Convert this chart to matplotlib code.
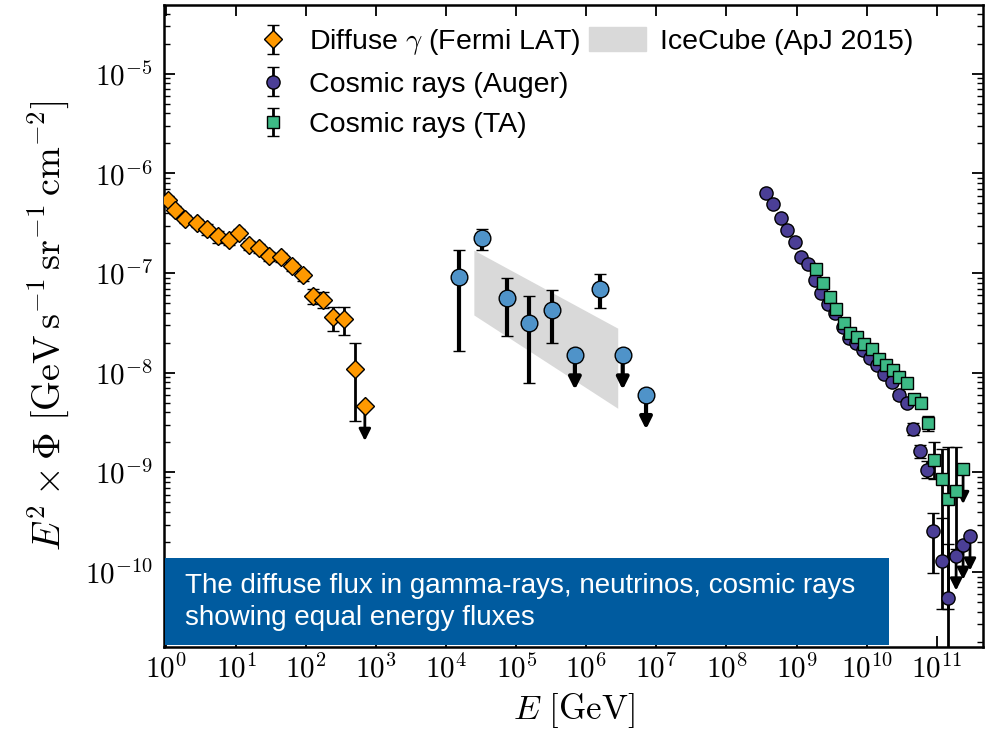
import numpy as np
import matplotlib
matplotlib.use('Agg')
from matplotlib import pyplot as plt
from matplotlib import ticker
from matplotlib.patches import Rectangle, Patch

# Fermi LAT diffuse gamma (E in GeV, E^2 Phi), last one is an upper limit
fermi_E = [1.05, 1.32, 1.84, 2.73, 3.79, 5.44, 7.8, 10.9, 15.1, 21, 29, 43, 62, 89, 124, 172, 239, 343, 493, 686]
fermi_F = [5.4e-7, 4.3e-7, 3.5e-7, 3.2e-7, 2.75e-7, 2.35e-7, 2.14e-7, 2.5e-7, 1.9e-7, 1.78e-7, 1.48e-7, 1.45e-7,
           1.17e-7, 9.5e-8, 5.9e-8, 5.4e-8, 3.6e-8, 3.5e-8, 1.1e-8, 4.6e-9]
fermi_lo = [4.9e-7, 3.9e-7, 3.2e-7, 2.9e-7, 2.4e-7, 2.0e-7, 1.9e-7, 2.25e-7, 1.7e-7, 1.6e-7, 1.33e-7, 1.3e-7,
            1.04e-7, 8.4e-8, 4.9e-8, 4.5e-8, 2.6e-8, 2.4e-8, 3.3e-9, 4.6e-9]
fermi_hi = [5.9e-7, 4.7e-7, 3.8e-7, 3.5e-7, 3.1e-7, 2.65e-7, 2.4e-7, 2.75e-7, 2.1e-7, 1.96e-7, 1.63e-7, 1.6e-7,
            1.3e-7, 1.06e-7, 6.9e-8, 6.4e-8, 4.6e-8, 4.6e-8, 2.0e-8, 4.6e-9]
fermi_ul = [0] * 19 + [1]

# IceCube neutrinos
nu_E = [1.51e4, 3.2e4, 7.3e4, 1.51e5, 3.2e5, 6.85e5, 1.56e6, 3.3e6, 7.1e6]
nu_F = [9.1e-8, 2.24e-7, 5.6e-8, 3.16e-8, 4.3e-8, 1.5e-8, 6.9e-8, 1.5e-8, 6.0e-9]
nu_lo = [1.66e-8, 1.7e-7, 2.34e-8, 7.9e-9, 2.0e-8, 1.5e-8, 4.5e-8, 1.5e-8, 6.0e-9]
nu_hi = [1.7e-7, 2.8e-7, 8.9e-8, 5.9e-8, 6.8e-8, 1.5e-8, 9.8e-8, 1.5e-8, 6.0e-9]
nu_ul = [0, 0, 0, 0, 0, 1, 0, 1, 1]

# IceCube (ApJ 2015) band
band_E = [2.47e4, 2.8e6]
band_lo = [3.8e-8, 4.4e-9]
band_hi = [1.7e-7, 2.8e-8]

# Auger cosmic rays
auger_E = [3.67e8, 4.6e8, 6.0e8, 7.3e8, 9.5e8, 1.16e9, 1.46e9, 1.84e9, 2.24e9, 2.82e9, 3.55e9, 4.6e9, 5.6e9,
           7.1e9, 8.9e9, 1.12e10, 1.41e10, 1.78e10, 2.31e10, 2.91e10, 3.79e10, 4.6e10, 5.8e10, 7.3e10, 8.9e10,
           1.2e11, 1.46e11, 1.9e11, 2.39e11, 3.0e11]
auger_F = [6.3e-7, 4.9e-7, 3.55e-7, 2.69e-7, 2.04e-7, 1.45e-7, 1.23e-7, 8.5e-8, 6.3e-8, 4.9e-8, 4.0e-8, 2.9e-8,
           2.24e-8, 2.0e-8, 1.7e-8, 1.41e-8, 1.2e-8, 9.8e-9, 8.1e-9, 6.0e-9, 5.0e-9, 2.72e-9, 1.64e-9, 1.06e-9,
           2.58e-10, 1.29e-10, 5.5e-11, 1.45e-10, 1.86e-10, 2.3e-10]
auger_lo = [6.1e-7, 4.75e-7, 3.45e-7, 2.6e-7, 1.98e-7, 1.4e-7, 1.19e-7, 8.2e-8, 6.1e-8, 4.7e-8, 3.85e-8, 2.78e-8,
            2.14e-8, 1.9e-8, 1.61e-8, 1.33e-8, 1.12e-8, 9.1e-9, 7.5e-9, 5.5e-9, 4.6e-9, 2.4e-9, 1.4e-9, 8.8e-10,
            9.8e-11, 4.3e-11, 1e-12, 1.45e-10, 1.86e-10, 2.3e-10]
auger_hi = [6.5e-7, 5.05e-7, 3.65e-7, 2.78e-7, 2.1e-7, 1.5e-7, 1.27e-7, 8.8e-8, 6.5e-8, 5.1e-8, 4.15e-8, 3.02e-8,
            2.34e-8, 2.1e-8, 1.79e-8, 1.49e-8, 1.28e-8, 1.05e-8, 8.7e-9, 6.5e-9, 5.4e-9, 3.1e-9, 1.9e-9, 1.3e-9,
            3.9e-10, 3.5e-10, 1.9e-10, 1.45e-10, 1.86e-10, 2.3e-10]
auger_ul = [0] * 27 + [1, 1, 1]

# Telescope Array cosmic rays
ta_E = [1.9e9, 2.39e9, 3.01e9, 3.67e9, 4.78e9, 5.8e9, 7.3e9, 9.2e9, 1.2e10, 1.51e10, 1.9e10, 2.39e10, 2.91e10,
        3.79e10, 4.78e10, 6.0e10, 7.57e10, 9.2e10, 1.2e11, 1.46e11, 1.9e11, 2.39e11]
ta_F = [1.1e-7, 7.9e-8, 5.75e-8, 4.4e-8, 3.16e-8, 2.5e-8, 2.3e-8, 1.95e-8, 1.74e-8, 1.38e-8, 1.2e-8, 1.07e-8,
        9.1e-9, 7.9e-9, 5.5e-9, 5.0e-9, 3.1e-9, 1.32e-9, 8.5e-10, 5.4e-10, 6.5e-10, 1.07e-9]
ta_lo = [1.06e-7, 7.6e-8, 5.55e-8, 4.25e-8, 3.05e-8, 2.4e-8, 2.2e-8, 1.86e-8, 1.65e-8, 1.3e-8, 1.12e-8, 9.9e-9,
         8.4e-9, 7.2e-9, 5.0e-9, 4.4e-9, 2.6e-9, 8.5e-10, 1.35e-10, 4.3e-11, 1.7e-10, 1.07e-9]
ta_hi = [1.14e-7, 8.2e-8, 5.95e-8, 4.55e-8, 3.27e-8, 2.6e-8, 2.4e-8, 2.04e-8, 1.83e-8, 1.46e-8, 1.28e-8, 1.15e-8,
         9.8e-9, 8.6e-9, 6.0e-9, 5.7e-9, 3.7e-9, 2.0e-9, 1.7e-9, 1.78e-9, 1.78e-9, 1.07e-9]
ta_ul = [0] * 21 + [1]

# decades that get a labelled tick
x_decades = list(range(0, 12))
y_decades = list(range(-10, -4))

plt.rcParams['mathtext.fontset'] = 'cm'
plt.rcParams['font.family'] = ['Liberation Sans', 'DejaVu Sans']

fig = plt.figure(figsize=(9.88, 7.36), dpi=100)
ax = fig.add_axes([164 / 988, 1 - 647 / 736, 819 / 988, 642 / 736])
ax.set_xscale('log')
ax.set_yscale('log')


def draw(E, F, lo, hi, ul, marker, color, ms, label, lw=2.5, cap=4):
    E = np.array(E); F = np.array(F); lo = np.array(lo); hi = np.array(hi)
    err = np.vstack([F - lo, hi - F])
    eb = ax.errorbar(E, F, yerr=err, fmt=marker, color='black', mfc=color, mec='black', mew=1.0,
                     ms=ms, elinewidth=lw, capsize=cap, capthick=lw, ecolor='black', label=label, zorder=3)
    for e, f, u in zip(E, F, ul):
        if u:
            ax.annotate('', xy=(e, f * 0.45), xytext=(e, f), zorder=2.5,
                        arrowprops=dict(arrowstyle='-|>,head_width=0.35,head_length=0.7', color='black',
                                        lw=lw, shrinkA=0, shrinkB=0))
    return eb


ax.fill_between(band_E, band_lo, band_hi, color='#d9d9d9', lw=0, zorder=1)

h1 = draw(fermi_E, fermi_F, fermi_lo, fermi_hi, fermi_ul, 'D', '#ff9900', 9.5, r'Diffuse $\gamma$ (Fermi LAT)', lw=2)
draw(nu_E, nu_F, nu_lo, nu_hi, nu_ul, 'o', '#4f93c9', 12, None, lw=3, cap=4)
h2 = draw(auger_E, auger_F, auger_lo, auger_hi, auger_ul, 'o', '#4b3f96', 9.5, 'Cosmic rays (Auger)', lw=2)
h3 = draw(ta_E, ta_F, ta_lo, ta_hi, ta_ul, 's', '#3dba86', 8.5, 'Cosmic rays (TA)', lw=2)

ax.set_xlim(0.93, 4.6e11)
ax.set_ylim(1.77e-11, 4.9e-5)

ax.xaxis.set_major_locator(ticker.FixedLocator([10.0 ** d for d in x_decades]))
ax.xaxis.set_minor_locator(ticker.NullLocator())
ax.yaxis.set_major_locator(ticker.FixedLocator([10.0 ** d for d in y_decades]))
ax.yaxis.set_minor_locator(ticker.LogLocator(base=10, subs=np.arange(2, 10), numticks=30))
ax.yaxis.set_minor_formatter(ticker.NullFormatter())
fmt = ticker.FuncFormatter(lambda v, p: r'$10^{%d}$' % int(round(np.log10(v))))
ax.xaxis.set_major_formatter(fmt)
ax.yaxis.set_major_formatter(fmt)
ax.tick_params(which='both', direction='in', top=True, right=True, labelsize=21)
ax.tick_params(which='major', length=8, width=1.3)
ax.tick_params(axis='x', which='major', pad=5)
ax.tick_params(axis='y', which='major', pad=8)
ax.tick_params(which='minor', length=4, width=1.0)
for s in ax.spines.values():
    s.set_linewidth(1.8)

ax.set_xlabel(r'$E\ [\mathrm{GeV}]$', fontsize=25, labelpad=6)
ax.set_ylabel(r'$E^2\times\Phi\ [\mathrm{GeV\,s^{-1}\,sr^{-1}\,cm^{-2}}]$', fontsize=27.5, labelpad=10)

leg1 = ax.legend(handles=[h1, h2, h3], loc='upper left', bbox_to_anchor=(0.085, 1.005), frameon=False,
                 fontsize=20.5, handlelength=1.0, handletextpad=0.75, labelspacing=0.5)
ax.add_artist(leg1)
ax.legend(handles=[Patch(color='#d9d9d9', label='IceCube (ApJ 2015)')], loc='upper left',
          bbox_to_anchor=(0.488, 1.005), frameon=False, fontsize=20.5, handlelength=2.0, handleheight=0.9,
          handletextpad=0.5)

# caption box drawn over the lower part of the figure
fig.patches.append(Rectangle((165 / 988, 1 - 645 / 736), 724 / 988, 87 / 736, transform=fig.transFigure,
                             facecolor='#005b9f', edgecolor='none', zorder=10))
fig.text(185 / 988, 1 - 593 / 736, 'The diffuse flux in gamma-rays, neutrinos, cosmic rays', color='white',
         fontsize=20, va='baseline', zorder=11)
fig.text(185 / 988, 1 - 625 / 736, 'showing equal energy fluxes', color='white',
         fontsize=20, va='baseline', zorder=11)

fig.savefig('out.png', dpi=100)
